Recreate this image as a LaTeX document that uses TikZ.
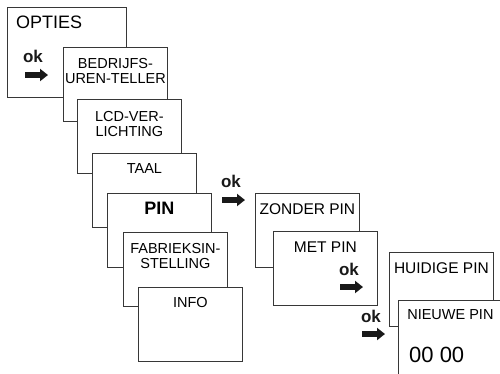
\documentclass[tikz,border=0pt]{standalone}
\usepackage{fontspec}
\setmainfont{Liberation Sans}
\usepackage{tikz}
\usetikzlibrary{arrows.meta, positioning}
\definecolor{frame}{RGB}{55, 55, 55}
\definecolor{okblack}{RGB}{25, 25, 25}

\begin{document}
\begin{tikzpicture}[
    x = 1pt, y = -1pt,
    screen/.style = {rectangle, draw=frame, fill=white, line width=0.8pt,
                     anchor=north west, inner sep=0pt,
                     minimum width=104pt, minimum height=74pt},
    caption/.style = {inner sep=0pt, align=center,
                      font=\fontsize{14.5}{15}\selectfont},
    bigcaption/.style = {caption, font=\fontsize{15.5}{16}\selectfont},
    oklabel/.style = {inner sep=0pt, anchor=base, text=okblack,
                      font=\fontsize{17}{17}\selectfont\bfseries},
    okarrow/.style = {-{Triangle[length=8pt, width=12pt]}, line width=5.5pt,
                      draw=okblack}
  ]
    \useasboundingbox (0,0) rectangle (500,373);

    % main menu
    \node[screen, minimum width=119pt, minimum height=90pt] (opties) at (7,7) {};
    \node[inner sep=0pt, anchor=north west, font=\fontsize{18}{18}\selectfont]
      (opties-txt) at (16,16) {OPTIES};
    \node[oklabel] (ok1) at (33,62) {ok};
    \draw[okarrow] ([shift={(-8,13)}]ok1.base) -- +(23,0);

    \node[screen] (bedrijf) at (63,47) {};
    \node[caption, below=11pt of bedrijf.north] (bedrijf-txt)
      {BEDRIJFS-\\UREN-TELLER};

    \node[screen] (lcd) at (77,99) {};
    \node[caption, below=12pt of lcd.north] (lcd-txt) {LCD-VER-\\LICHTING};

    \node[screen] (taal) at (92,153) {};
    \node[caption, below=10pt of taal.north] (taal-txt) {TAAL};

    \node[screen] (pin) at (107,193) {};
    \node[caption, below=9pt of pin.north, font=\fontsize{18}{18}\selectfont\bfseries]
      (pin-txt) {PIN};

    \node[screen] (fabriek) at (123,232) {};
    \node[caption, below=11pt of fabriek.north] (fabriek-txt)
      {FABRIEKSIN-\\STELLING};

    \node[screen] (info) at (138,287) {};
    \node[caption, below=10pt of info.north] (info-txt) {INFO};

    % pin submenu
    \node[oklabel] (ok2) at (231,187) {ok};
    \draw[okarrow] ([shift={(-9,13)}]ok2.base) -- +(23,0);

    \node[screen] (zonder) at (255,193) {};
    \node[bigcaption, below=10pt of zonder.north] (zonder-txt) {ZONDER PIN};

    \node[screen] (metpin) at (273,231) {};
    \node[bigcaption, below=11pt of metpin.north] (metpin-txt) {MET PIN};
    \node[oklabel] (ok3) at (349,275) {ok};
    \draw[okarrow] ([shift={(-9,12)}]ok3.base) -- +(23,0);

    % new pin entry
    \node[oklabel] (ok4) at (371,322) {ok};
    \draw[okarrow] ([shift={(-9,12)}]ok4.base) -- +(23,0);

    \node[screen] (huidig) at (389,252) {};
    \node[bigcaption, below=10pt of huidig.north] (huidig-txt) {HUIDIGE PIN};

    \node[screen, minimum height=90pt] (nieuw) at (398,300) {};
    \node[caption, below=9pt of nieuw.north] (nieuw-txt) {NIEUWE PIN};
    \node[inner sep=0pt, anchor=north west, font=\fontsize{22}{22}\selectfont]
      (nieuw-code) at (409,347) {00 00};
  \end{tikzpicture}
\end{document}
